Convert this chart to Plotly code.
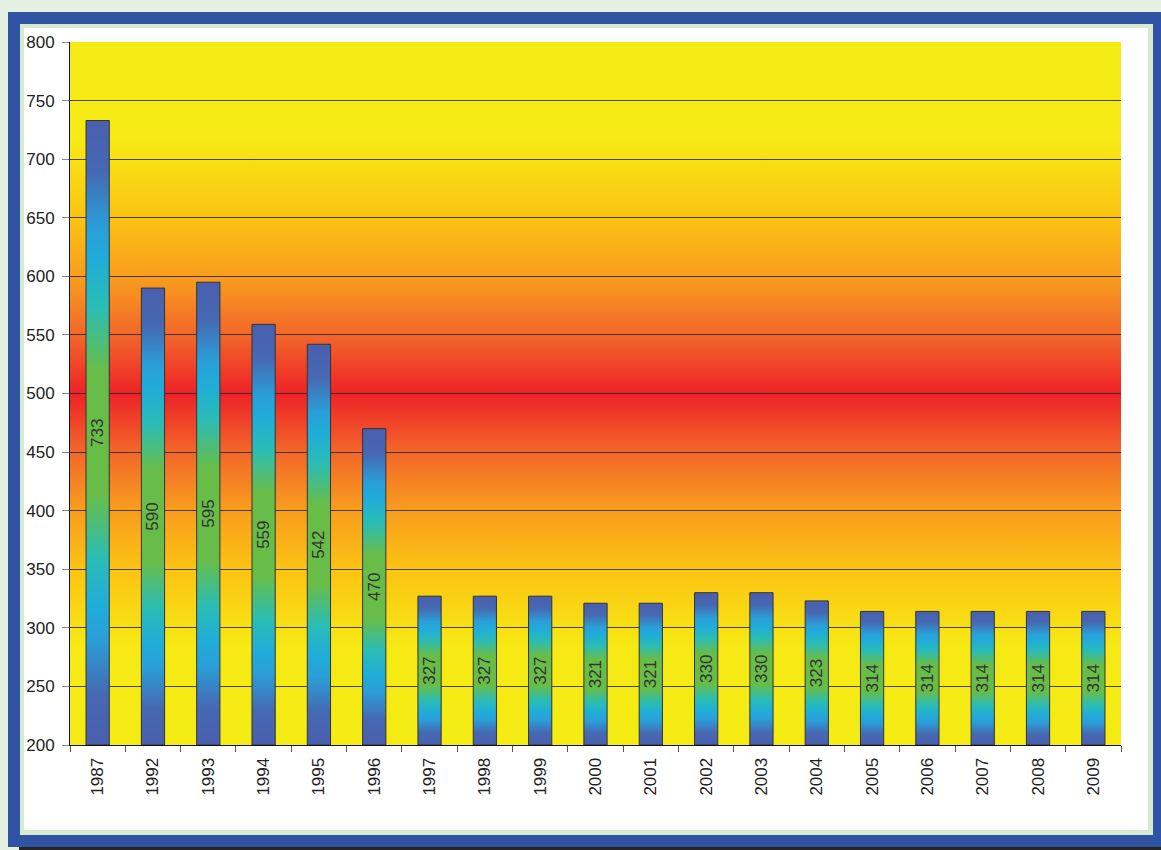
import json
import plotly.graph_objects as go

# ---------------------------- DATA ----------------------------
years = ["1987", "1992", "1993", "1994", "1995", "1996", "1997", "1998", "1999", "2000",
         "2001", "2002", "2003", "2004", "2005", "2006", "2007", "2008", "2009"]
values = [733, 590, 595, 559, 542, 470, 327, 327, 327, 321,
          321, 330, 330, 323, 314, 314, 314, 314, 314]

AXIS_MIN, AXIS_MAX = 200, 800

# ---------------------------- LAYOUT GEOMETRY ----------------------------
W, H = 1161, 850
L, R, T, B = 70, 40, 42, 105
PW, PH = W - L - R, H - T - B


def px(x):
    return (x - L) / PW


def py(y):
    return (H - B - y) / PH


def frame_rect(x0, y0, x1, y1, color):
    return dict(type="rect", xref="paper", yref="paper", layer="below",
                x0=px(x0), x1=px(x1), y0=py(y1), y1=py(y0),
                fillcolor=color, line=dict(width=0))


FONT = "Liberation Sans, Arial, sans-serif"

fig = go.Figure()
# bars start at the axis minimum (like the original Excel chart)
fig.add_trace(go.Bar(
    x=years,
    y=[v - AXIS_MIN for v in values],
    base=AXIS_MIN,
    customdata=values,
    text=[str(v) for v in values],
    textposition="inside",
    insidetextanchor="middle",
    textangle=-90,
    constraintext="none",
    textfont=dict(family=FONT, size=17, color="#333333"),
    marker=dict(color="#4aa0c8", line=dict(color="#333333", width=1)),
    hovertemplate="%{x}: %{customdata}<extra></extra>",
))

shapes = [
    frame_rect(8, 12, 1180, 847, "#3054a4"),
    frame_rect(19, 847, 1180, 860, "#262626"),
    frame_rect(20, 24, 1153, 835, "#d6ead0"),
    frame_rect(24, 28, 1148, 830, "#ffffff"),
    dict(type="rect", xref="x domain", yref="y domain", layer="below",
         x0=0, x1=1, y0=0, y1=1, fillcolor="#f7941d", line=dict(width=0)),
]

fig.update_layout(
    width=W, height=H,
    margin=dict(l=L, r=R, t=T, b=B),
    paper_bgcolor="#e4f0e2",
    plot_bgcolor="rgba(0,0,0,0)",
    showlegend=False,
    bargap=0.58,
    shapes=shapes,
    font=dict(family=FONT, size=17, color="#222222"),
    xaxis=dict(
        type="category", tickangle=-90,
        ticks="outside", tickson="boundaries", ticklen=6, tickcolor="#555555",
        ticklabelstandoff=5,
        showline=True, linecolor="#111111", linewidth=1,
        showgrid=False, tickfont=dict(size=17, color="#222222"),
    ),
    yaxis=dict(
        range=[AXIS_MIN, AXIS_MAX], dtick=50,
        ticks="outside", ticklen=7, tickcolor="#888888",
        ticklabelstandoff=4,
        showline=True, linecolor="#111111", linewidth=1,
        showgrid=True, gridcolor="rgba(40,40,40,0.85)", gridwidth=1,
        zeroline=False, tickfont=dict(size=17, color="#222222"),
    ),
)

# gradient fills (plot background and bars)
bg_stops = [[0, "#f5ec14"], [0.14, "#f6e914"], [0.25, "#fcc313"], [0.34, "#f89a1e"],
            [0.42, "#f2642a"], [0.5, "#ee2227"], [0.58, "#f2642a"], [0.66, "#f89a1e"],
            [0.75, "#fcc313"], [0.86, "#f6e914"], [1, "#f5ec14"]]
bar_stops = [[0, "#4a5fae"], [0.08, "#4668b2"], [0.17, "#2a9fd8"], [0.22, "#20acd9"],
             [0.3, "#2bbdb4"], [0.4, "#68bd48"], [0.6, "#68bd48"], [0.7, "#2bbdb4"],
             [0.78, "#20acd9"], [0.83, "#2a9fd8"], [0.92, "#4668b2"], [1, "#4a5fae"]]

post = """
document.body.style.margin = '0';
var gd = document.getElementById('{plot_id}');
var ns = 'http://www.w3.org/2000/svg';
var svg = gd.querySelector('svg.main-svg');
var defs = svg.querySelector('defs');
if (!defs) { defs = document.createElementNS(ns, 'defs'); svg.insertBefore(defs, svg.firstChild); }
function grad(id, stops) {
  var g = document.createElementNS(ns, 'linearGradient');
  g.setAttribute('id', id);
  g.setAttribute('x1', '0'); g.setAttribute('y1', '0');
  g.setAttribute('x2', '0'); g.setAttribute('y2', '1');
  stops.forEach(function(s) {
    var st = document.createElementNS(ns, 'stop');
    st.setAttribute('offset', s[0]);
    st.setAttribute('stop-color', s[1]);
    g.appendChild(st);
  });
  defs.appendChild(g);
}
grad('bggrad', BG_STOPS);
grad('bargrad', BAR_STOPS);
var bg = gd.querySelector('.shapelayer path[data-index="4"]');
if (bg) { bg.style.fill = 'url(#bggrad)'; }
gd.querySelectorAll('.trace.bars .point path').forEach(function(p) {
  p.style.fill = 'url(#bargrad)';
});
""".replace("BG_STOPS", json.dumps(bg_stops)).replace("BAR_STOPS", json.dumps(bar_stops))

fig.write_html("out.html", post_script=post, config={"displayModeBar": False})
